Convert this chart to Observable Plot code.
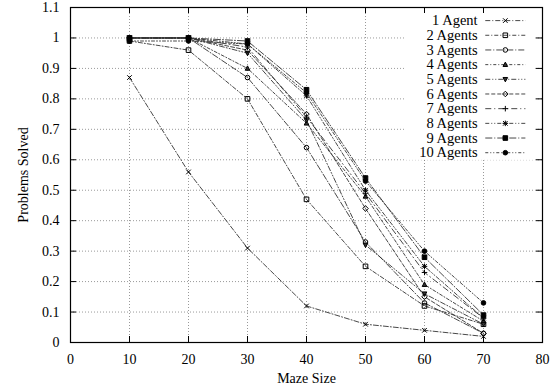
<!DOCTYPE html>
<html>
<head>
<meta charset="utf-8">
<script src="https://cdn.jsdelivr.net/npm/d3@7"></script>
<script src="https://cdn.jsdelivr.net/npm/@observablehq/plot@0.6"></script>
<style>
  html, body { margin: 0; padding: 0; background: #fff; }
  #chart svg { display: block; }
  #chart svg, #chart svg text { font-family: "Liberation Serif", "DejaVu Serif", serif !important; }
</style>
</head>
<body>
<div id="chart"></div>
<script>
// ---- data ----
const mazeSizes = [10, 20, 30, 40, 50, 60, 70];
const seriesNames = ["1 Agent", "2 Agents", "3 Agents", "4 Agents", "5 Agents",
  "6 Agents", "7 Agents", "8 Agents", "9 Agents", "10 Agents"];
const agents1  = [0.87, 0.56, 0.31, 0.12, 0.06, 0.04, 0.02];
const agents2  = [0.99, 0.96, 0.80, 0.47, 0.25, 0.12, 0.06];
const agents3  = [1.00, 1.00, 0.87, 0.64, 0.33, 0.13, 0.03];
const agents4  = [1.00, 1.00, 0.90, 0.72, 0.48, 0.19, 0.07];
const agents5  = [1.00, 1.00, 0.95, 0.73, 0.32, 0.16, 0.06];
const agents6  = [1.00, 1.00, 0.96, 0.75, 0.44, 0.15, 0.03];
const agents7  = [1.00, 1.00, 0.97, 0.74, 0.49, 0.23, 0.08];
const agents8  = [1.00, 1.00, 0.98, 0.81, 0.50, 0.25, 0.08];
const agents9  = [1.00, 1.00, 0.99, 0.83, 0.54, 0.28, 0.09];
const agents10 = [0.99, 0.99, 0.98, 0.82, 0.53, 0.30, 0.13];
const seriesValues = [agents1, agents2, agents3, agents4, agents5,
  agents6, agents7, agents8, agents9, agents10];
const xTicks = [0, 10, 20, 30, 40, 50, 60, 70, 80];
const yTicks = [0, 0.1, 0.2, 0.3, 0.4, 0.5, 0.6, 0.7, 0.8, 0.9, 1.0, 1.1];

// ---- symbols (gnuplot-like) ----
const S = (f) => ({ draw(c, s) { f(c, Math.sqrt(s) / 2); } });
const symTimes = S((c, r) => { c.moveTo(-r, -r); c.lineTo(r, r); c.moveTo(r, -r); c.lineTo(-r, r); });
const symPlus = S((c, r) => { c.moveTo(-r * 1.2, 0); c.lineTo(r * 1.2, 0); c.moveTo(0, -r * 1.2); c.lineTo(0, r * 1.2); });
const symAst = S((c, r) => { c.moveTo(-r, -r); c.lineTo(r, r); c.moveTo(r, -r); c.lineTo(-r, r);
  c.moveTo(-r * 1.2, 0); c.lineTo(r * 1.2, 0); c.moveTo(0, -r * 1.2); c.lineTo(0, r * 1.2); });
const symSquare = S((c, r) => { c.moveTo(-r, -r); c.lineTo(r, -r); c.lineTo(r, r); c.lineTo(-r, r); c.closePath(); });
const symCircle = S((c, r) => { c.moveTo(r, 0); c.arc(0, 0, r, 0, 2 * Math.PI); c.closePath(); });
const symTri = S((c, r) => { c.moveTo(0, -r * 1.1); c.lineTo(r, r * 0.8); c.lineTo(-r, r * 0.8); c.closePath(); });
const symInvTri = S((c, r) => { c.moveTo(0, r * 1.1); c.lineTo(r, -r * 0.8); c.lineTo(-r, -r * 0.8); c.closePath(); });
const symDiamond = S((c, r) => { c.moveTo(0, -r * 1.2); c.lineTo(r * 1.2, 0); c.lineTo(0, r * 1.2); c.lineTo(-r * 1.2, 0); c.closePath(); });

const seriesSymbols = [symTimes, symSquare, symCircle, symTri, symInvTri, symDiamond, symPlus, symAst, symSquare, symCircle];
const seriesFills = ["none", "none", "none", "#333", "#333", "none", "none", "none", "black", "black"];
const seriesDash = ["5,2,1,2", "4,2,1,2", "6,2,1,2", "3,2,1,2", "5,2,1,2,1,2", "4,2", "6,3,1,3", "4,2,1,2,1,2", "7,2,1,2", "3,2,1,2,1,2"];

const data = [];
seriesNames.forEach((name, i) => {
  mazeSizes.forEach((m, j) => data.push({ series: name, size: m, value: seriesValues[i][j], idx: i }));
});

// legend layout (in data units)
const legendRows = seriesNames.map((name, i) => ({
  name, i, y: 1.057 - i * 0.0482
}));

const W = 550, H = 390;
const mL = 70, mR = 8, mT = 7, mB = 48;
const pw = W - mL - mR, ph = H - mT - mB;
const font = "Liberation Serif, DejaVu Serif, serif";

const marks = [
  Plot.gridX(xTicks.slice(1, -1), { stroke: "#000", strokeOpacity: 0.5, strokeDasharray: "1,2", strokeWidth: 0.8 }),
  Plot.gridY(yTicks.slice(1, -1), { stroke: "#000", strokeOpacity: 0.5, strokeDasharray: "1,2", strokeWidth: 0.8 }),
  // opaque key background
  Plot.rect([{}], { x1: 56.8, x2: 78.8, y1: 0.598, y2: 1.09, fill: "white" }),
  // inward ticks
  Plot.tickX(xTicks, { x: d => d, insetTop: ph - 6, stroke: "#000" }),
  Plot.tickX(xTicks, { x: d => d, insetBottom: ph - 6, stroke: "#000" }),
  Plot.tickY(yTicks, { y: d => d, insetRight: pw - 6, stroke: "#000" }),
  Plot.tickY(yTicks, { y: d => d, insetLeft: pw - 6, stroke: "#000" }),
  Plot.axisX(xTicks, { tickSize: 0, tickPadding: 12, fontSize: 14, label: "Maze Size", labelAnchor: "center", labelArrow: "none", labelOffset: 40 }),
  Plot.axisY(yTicks, { tickSize: 0, tickPadding: 11, fontSize: 14, tickFormat: d => String(+d.toFixed(1)), label: "Problems Solved", labelAnchor: "center", labelArrow: "none", labelOffset: 52 })
];

seriesNames.forEach((name, i) => {
  const rows = data.filter(d => d.idx === i);
  marks.push(Plot.line(rows, { x: "size", y: "value", stroke: "#333", strokeWidth: 0.9, strokeDasharray: seriesDash[i] }));
  marks.push(Plot.dot(rows, { x: "size", y: "value", r: 2.6, symbol: () => seriesSymbols[i], fill: seriesFills[i], stroke: "#000", strokeWidth: 1 }));
  const lr = [legendRows[i]];
  marks.push(Plot.link(lr, { x1: 70.3, x2: 77.1, y1: "y", y2: "y", stroke: "#333", strokeWidth: 0.9, strokeDasharray: seriesDash[i] }));
  marks.push(Plot.dot(lr, { x: 73.7, y: "y", r: 2.6, symbol: () => seriesSymbols[i], fill: seriesFills[i], stroke: "#000", strokeWidth: 1 }));
});

marks.push(Plot.text(legendRows, { x: 69.0, y: "y", text: "name", textAnchor: "end", fontSize: 14.5, fill: "#000" }));
marks.push(Plot.frame({ stroke: "#000", strokeWidth: 1.2 }));

const chart = Plot.plot({
  width: W, height: H,
  marginLeft: mL, marginRight: mR, marginTop: mT, marginBottom: mB,
  style: { fontFamily: font, fontSize: "14px", color: "#000", background: "#fff" },
  x: { domain: [0, 80] },
  y: { domain: [0, 1.1] },
  symbol: { type: "identity" },
  marks
});
document.getElementById("chart").appendChild(chart);
</script>
</body>
</html>
